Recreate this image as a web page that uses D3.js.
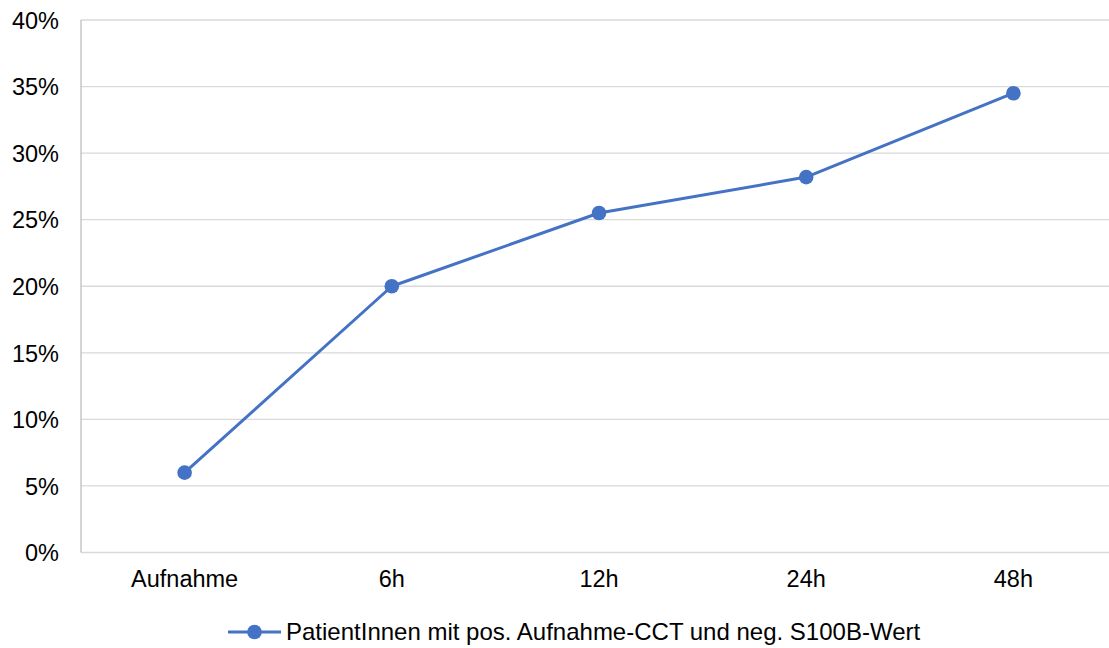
<!DOCTYPE html>
<html>
<head>
<meta charset="utf-8">
<script src="https://cdn.jsdelivr.net/npm/d3@7"></script>
<style>
  html, body { margin: 0; padding: 0; background: #fff; }
  svg { display: block; font-family: "Liberation Sans", Arial, sans-serif; }
</style>
</head>
<body>
<svg id="chart" width="1109" height="648"></svg>
<script>
// Share of patients per time point
const categories = ["Aufnahme", "6h", "12h", "24h", "48h"];
const values = [0.060, 0.200, 0.255, 0.282, 0.345];
const yTicks = [0, 0.05, 0.10, 0.15, 0.20, 0.25, 0.30, 0.35, 0.40];
const seriesName = "PatientInnen mit pos. Aufnahme-CCT und neg. S100B-Wert";

const svg = d3.select("#chart");
const margin = { left: 81, top: 20, right: 1117, bottom: 552.5 };
const color = "#4472C4";
const fontSize = 23.5;

const x = d3.scaleBand().domain(categories).range([margin.left, margin.right]);
const y = d3.scaleLinear().domain([0, 0.40]).range([margin.bottom, margin.top]);

// Horizontal gridlines
svg.append("g")
  .selectAll("line")
  .data(yTicks)
  .join("line")
  .attr("x1", margin.left)
  .attr("x2", margin.right)
  .attr("y1", d => y(d))
  .attr("y2", d => y(d))
  .attr("stroke", "#d9d9d9")
  .attr("stroke-width", 1.3);

// Vertical axis line
svg.append("line")
  .attr("x1", margin.left).attr("x2", margin.left)
  .attr("y1", margin.top).attr("y2", margin.bottom)
  .attr("stroke", "#bfbfbf").attr("stroke-width", 1.3);

// Y tick labels
const yAxis = d3.axisLeft(y).tickValues(yTicks).tickFormat(d3.format(".0%")).tickSize(0).tickPadding(0);
const gy = svg.append("g").attr("transform", `translate(${margin.left - 22},0)`).call(yAxis);
gy.select(".domain").remove();
gy.selectAll("text")
  .attr("font-size", fontSize)
  .attr("fill", "#000")
  .attr("font-family", "'Liberation Sans', Arial, sans-serif")
  .attr("dy", "0.35em");

// X tick labels
const xAxis = d3.axisBottom(x).tickSize(0).tickPadding(0);
const gx = svg.append("g").attr("transform", `translate(0,${margin.bottom + 18})`).call(xAxis);
gx.select(".domain").remove();
gx.selectAll("text")
  .attr("font-size", fontSize)
  .attr("fill", "#000")
  .attr("font-family", "'Liberation Sans', Arial, sans-serif");

// Series line
const cx = d => x(d) + x.bandwidth() / 2;
const line = d3.line().x((d, i) => cx(categories[i])).y(d => y(d));
svg.append("path")
  .datum(values)
  .attr("d", line)
  .attr("fill", "none")
  .attr("stroke", color)
  .attr("stroke-width", 3)
  .attr("stroke-linejoin", "round");

svg.append("g")
  .selectAll("circle")
  .data(values)
  .join("circle")
  .attr("cx", (d, i) => cx(categories[i]))
  .attr("cy", d => y(d))
  .attr("r", 7.3)
  .attr("fill", color);

// Legend
const lg = svg.append("g").attr("transform", "translate(228,632)");
lg.append("line").attr("x1", 0).attr("x2", 53).attr("y1", 0).attr("y2", 0)
  .attr("stroke", color).attr("stroke-width", 3);
lg.append("circle").attr("cx", 26.5).attr("cy", 0).attr("r", 7.3).attr("fill", color);
lg.append("text").attr("x", 58).attr("y", 0).attr("dy", "0.35em")
  .attr("font-size", 24).attr("fill", "#000").text(seriesName);
</script>
</body>
</html>
